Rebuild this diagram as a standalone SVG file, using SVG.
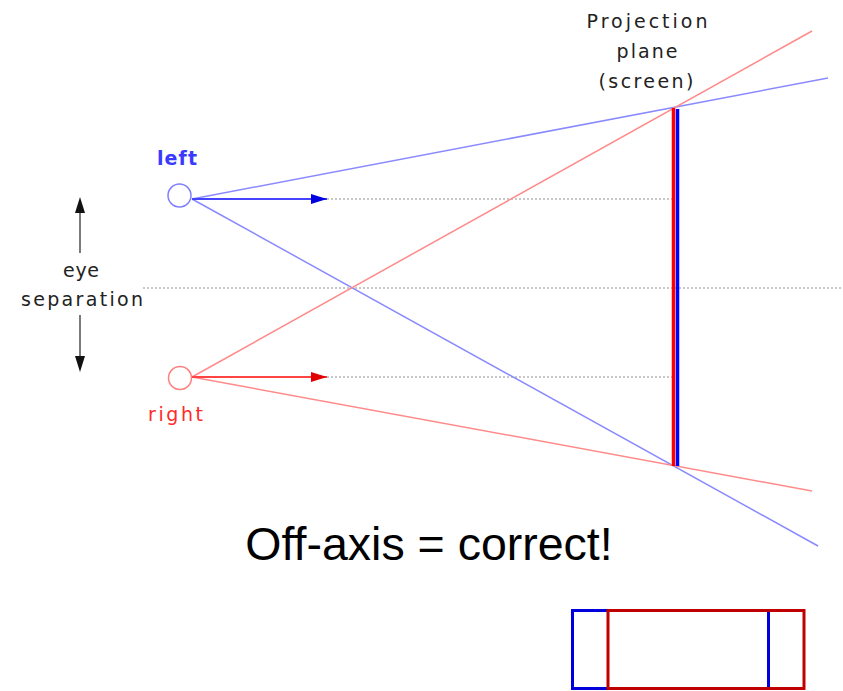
<svg xmlns="http://www.w3.org/2000/svg" width="843" height="691" viewBox="0 0 843 691">
<style>
.lbl{font-family:"DejaVu Sans","Liberation Sans",sans-serif;font-size:19px;fill:#222;text-anchor:middle}
.dot{stroke:#c8c8c8;stroke-width:2;stroke-dasharray:2 2;fill:none}
.bl{stroke:#8a8aff;stroke-width:1.5;fill:none}
.rl{stroke:#ff8a8a;stroke-width:1.5;fill:none}
</style>
<defs>
<marker id="ab" markerWidth="16" markerHeight="10" refX="16" refY="5" orient="auto" markerUnits="userSpaceOnUse"><path d="M0,0 L16,5 L0,10 z" fill="#0000e0"/></marker>
<marker id="ar" markerWidth="16" markerHeight="10" refX="16" refY="5" orient="auto" markerUnits="userSpaceOnUse"><path d="M0,0 L16,5 L0,10 z" fill="#e00000"/></marker>
</defs>
<rect width="843" height="691" fill="#fff"/>
<g id="connectors">
<line class="dot" x1="143" y1="288" x2="843" y2="288"/>
<line class="dot" x1="327" y1="199" x2="672" y2="199"/>
<line class="dot" x1="327" y1="377" x2="672" y2="377"/>
<line class="bl" x1="192" y1="199" x2="828" y2="78"/>
<line class="bl" x1="192" y1="199" x2="818" y2="546"/>
<line class="rl" x1="192" y1="377" x2="812" y2="31"/>
<line class="rl" x1="192" y1="377" x2="812" y2="491"/>
<line x1="192" y1="199" x2="327" y2="199" stroke="#4444ff" stroke-width="2" marker-end="url(#ab)"/>
<line x1="192" y1="377" x2="327" y2="377" stroke="#ff4444" stroke-width="2" marker-end="url(#ar)"/>
<line x1="80" y1="210" x2="80" y2="253" stroke="#333" stroke-width="1.3"/>
<polygon points="80,197 85,213 75,213" fill="#111"/>
<line x1="80" y1="315" x2="80" y2="360" stroke="#333" stroke-width="1.3"/>
<polygon points="80,372 85,356 75,356" fill="#111"/>
</g>
<g id="screen">
<line x1="673.5" y1="108" x2="673.5" y2="466" stroke="#ff0000" stroke-width="3.5"/>
<line x1="677.5" y1="109" x2="677.5" y2="466" stroke="#0000ff" stroke-width="3.5"/>
<text class="lbl" x="647" y="28" textLength="121" lengthAdjust="spacing">Projection</text>
<text class="lbl" x="647" y="58" textLength="61" lengthAdjust="spacing">plane</text>
<text class="lbl" x="646" y="88" textLength="95" lengthAdjust="spacing">(screen)</text>
</g>
<g id="left-eye">
<circle cx="179.5" cy="195.5" r="11.5" fill="none" stroke="#8080ff" stroke-width="1.5"/>
<text x="177" y="165" font-family="DejaVu Sans,sans-serif" font-size="19" font-weight="bold" fill="#3a3aff" text-anchor="middle" textLength="40" lengthAdjust="spacing">left</text>
</g>
<g id="right-eye">
<circle cx="180" cy="378" r="11.5" fill="none" stroke="#ff8080" stroke-width="1.5"/>
<text x="175.5" y="421" font-family="DejaVu Sans,sans-serif" font-size="19" fill="#ff2a2a" text-anchor="middle" textLength="55" lengthAdjust="spacing">right</text>
</g>
<g id="eye-separation">
<text class="lbl" x="81" y="277" textLength="36" lengthAdjust="spacing">eye</text>
<text class="lbl" x="82" y="306" textLength="122" lengthAdjust="spacing">separation</text>
</g>
<g id="caption">
<text x="429" y="560" font-family="Liberation Sans,Arial,sans-serif" font-size="46.5" fill="#000" text-anchor="middle">Off-axis = correct!</text>
</g>
<g id="frusta">
<rect x="572.5" y="610.5" width="196" height="78" fill="none" stroke="#0000dd" stroke-width="3"/>
<rect x="608" y="610.5" width="196" height="78" fill="none" stroke="#c00000" stroke-width="3"/>
</g>
</svg>
